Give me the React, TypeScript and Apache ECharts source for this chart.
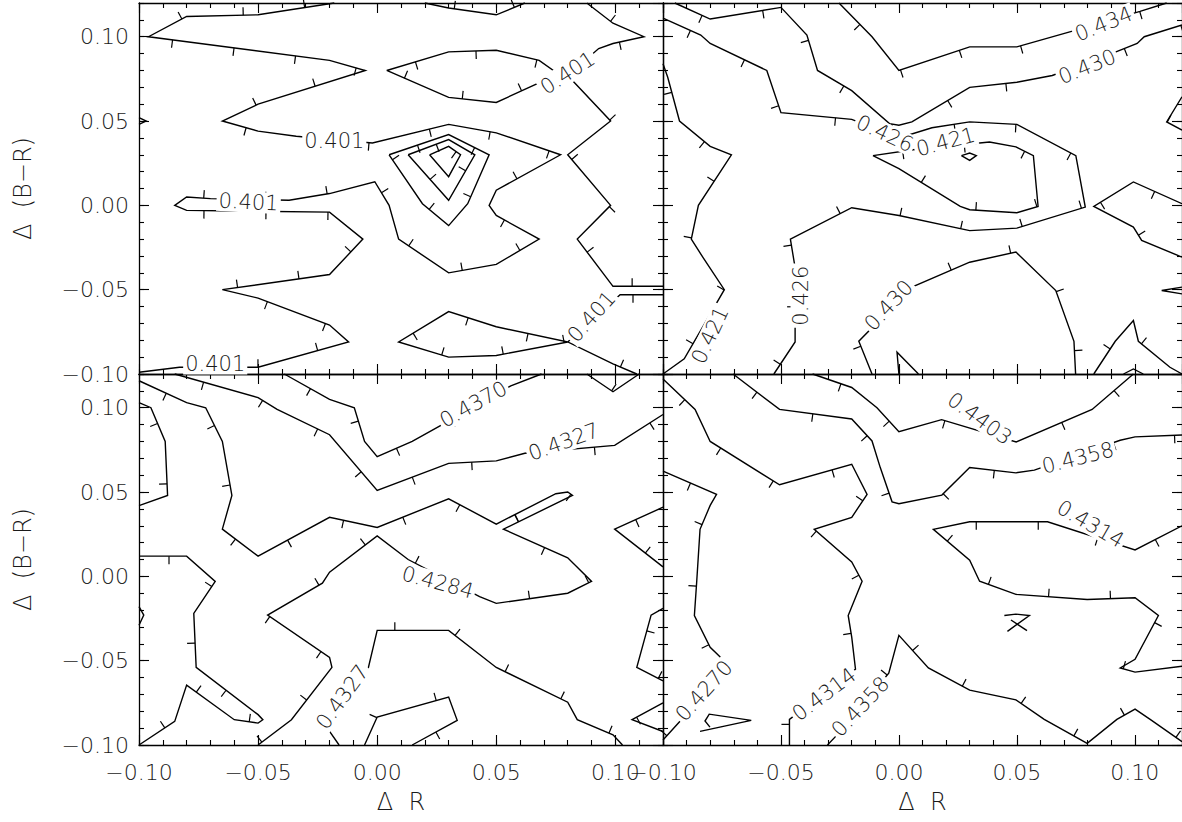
import { useEffect, useRef } from 'react';
import * as echarts from 'echarts';

type Pt = [number, number];
type Contour = { pts: Pt[]; side: number };
type Label = [number, number, number, string]; // x, y, angle (deg), text

const X_MIN = -0.1;
const X_MAX = 0.12;
const Y_MIN = -0.1;
const Y_MAX = 0.12;
const MAJOR = 0.05;
const MINOR = 0.01;

// ---------- Panel 1 (top left) ----------
const p1Outer: Pt[] = [[-0.018,0.120],[-0.050,0.113],[-0.080,0.112],[-0.096,0.100],[-0.020,0.086],[-0.005,0.080],[-0.050,0.060],[-0.065,0.050],[-0.050,0.044],[-0.034,0.041],[-0.002,0.037],[0.030,0.048],[0.050,0.043],[0.077,0.030],[0.050,0.009],[0.047,0.000],[0.050,-0.006],[0.068,-0.020],[0.050,-0.035],[0.030,-0.040],[0.009,-0.020],[0.005,0.000],[-0.001,0.014],[-0.020,0.007],[-0.037,0.003],[-0.070,0.004],[-0.080,0.005],[-0.085,0.000],[-0.080,-0.003],[-0.020,-0.004],[-0.006,-0.020],[-0.020,-0.041],[-0.065,-0.050],[-0.050,-0.055],[-0.020,-0.071],[-0.012,-0.081],[-0.050,-0.096],[-0.083,-0.096],[-0.100,-0.099]];
const p1Right: Pt[] = [[0.088,0.120],[0.099,0.108],[0.112,0.100],[0.099,0.096],[0.093,0.093],[0.080,0.077],[0.098,0.050],[0.080,0.030],[0.098,0.000],[0.084,-0.020],[0.099,-0.048],[0.120,-0.048]];
const p1Lens: Pt[] = [[0.004,0.080],[0.030,0.091],[0.050,0.092],[0.068,0.086],[0.075,0.079],[0.070,0.074],[0.050,0.061],[0.030,0.064],[0.004,0.080]];
const p1TopV: Pt[] = [[0.020,0.120],[0.030,0.117],[0.050,0.113],[0.062,0.120]];
const p1Bottom: Pt[] = [[0.120,-0.053],[0.102,-0.053],[0.080,-0.081],[0.050,-0.072],[0.030,-0.063],[0.009,-0.081],[0.030,-0.090],[0.050,-0.089],[0.080,-0.081],[0.099,-0.094],[0.109,-0.100]];
const p1Ring1: Pt[] = [[0.005,0.030],[0.030,0.042],[0.047,0.030],[0.038,0.001],[0.030,-0.012],[0.019,0.001],[0.005,0.030]];
const p1Ring2: Pt[] = [[0.013,0.030],[0.030,0.039],[0.041,0.030],[0.030,0.003],[0.013,0.030]];
const p1Ring3: Pt[] = [[0.022,0.030],[0.030,0.035],[0.035,0.030],[0.030,0.017],[0.022,0.030]];
const p1Edge: Pt[] = [[-0.100,0.052],[-0.097,0.050],[-0.100,0.048]];
const p1Labels: Label[] = [
  [-0.018, 0.038, 0, '0.401'],
  [-0.054, 0.002, -3, '0.401'],
  [-0.068, -0.094, 0, '0.401'],
  [0.080, 0.0785, 33, '0.401'],
  [0.090, -0.066, 48, '0.401'],
];

// ---------- Panel 2 (top right) ----------
const p2Left421: Pt[] = [[-0.100,0.084],[-0.098,0.076],[-0.093,0.050],[-0.080,0.035],[-0.071,0.030],[-0.085,0.000],[-0.088,-0.020],[-0.083,-0.031],[-0.074,-0.050],[-0.091,-0.091],[-0.100,-0.100]];
const p2Main426: Pt[] = [[-0.100,0.111],[-0.084,0.101],[-0.080,0.096],[-0.056,0.080],[-0.050,0.055],[-0.020,0.051],[0.000,0.040],[0.014,0.046],[0.030,0.0495],[0.050,0.048],[0.075,0.0295],[0.079,-0.001],[0.050,-0.0135],[0.030,-0.015],[0.000,-0.006],[-0.020,-0.0014],[-0.046,-0.020],[-0.044,-0.037],[-0.044,-0.081],[-0.053,-0.100]];
const p2Loop421: Pt[] = [[-0.011,0.0295],[0.006,0.033],[0.0384,0.0376],[0.0496,0.0347],[0.057,0.0295],[0.059,-0.0006],[0.050,-0.0044],[0.030,-0.0026],[0.026,-0.0006],[0.000,0.0218],[-0.011,0.0295]];
const p2Upper430: Pt[] = [[-0.095,0.120],[-0.080,0.1105],[-0.050,0.1174],[-0.039,0.101],[-0.0345,0.080],[-0.020,0.068],[-0.004,0.0485],[0.000,0.0475],[0.0055,0.0495],[0.030,0.070],[0.050,0.073],[0.065,0.077],[0.092,0.091],[0.101,0.096],[0.104,0.100],[0.120,0.107]];
const p2Top434: Pt[] = [[-0.0254,0.120],[-0.0114,0.100],[0.000,0.080],[0.030,0.094],[0.050,0.094],[0.0728,0.103],[0.1022,0.115],[0.1135,0.120]];
const p2Lower430: Pt[] = [[-0.0114,-0.100],[-0.017,-0.0806],[0.0055,-0.0485],[0.030,-0.0337],[0.0496,-0.0277],[0.0665,-0.0505],[0.0742,-0.0806],[0.0749,-0.100]];
const p2Diamond: Pt[] = [[0.0265,0.0295],[0.030,0.031],[0.0328,0.0295],[0.030,0.0267],[0.0265,0.0295]];
const p2EdgeA: Pt[] = [[0.120,0.0644],[0.1135,0.0495],[0.120,0.0446]];
const p2EdgeB: Pt[] = [[0.120,0.001],[0.0994,0.0139],[0.0826,-0.0006],[0.0994,-0.0129],[0.1029,-0.0208],[0.120,-0.0307]];
const p2EdgeC: Pt[] = [[0.120,-0.0485],[0.1114,-0.0505],[0.120,-0.0525]];
const p2Spike: Pt[] = [[0.0083,-0.100],[-0.0008,-0.0871],[0.000,-0.100]];
const p2Peak: Pt[] = [[0.0826,-0.100],[0.0917,-0.0806],[0.0994,-0.0683],[0.1015,-0.0806],[0.1149,-0.096],[0.120,-0.100]];
const p2Small: Pt[] = [[0.0952,-0.100],[0.0994,-0.097],[0.1036,-0.100]];
const p2Labels: Label[] = [
  [-0.080, -0.077, 65, '0.421'],
  [-0.006, 0.0426, -25, '0.426'],
  [0.0198, 0.0376, 15, '0.421'],
  [-0.0415, -0.0535, 90, '0.426'],
  [0.0798, 0.0822, 22, '0.430'],
  [0.0868, 0.1075, 22, '0.434'],
  [-0.0043, -0.0594, 47, '0.430'],
];

// ---------- Panel 3 (bottom left) ----------
const p3Mid4284: Pt[] = [[-0.100,0.116],[-0.080,0.103],[-0.072,0.100],[-0.065,0.080],[-0.061,0.048],[-0.065,0.028],[-0.050,0.012],[-0.020,0.035],[0.000,0.029],[0.030,0.046],[0.050,0.031],[0.075,0.049],[0.080,0.050],[0.082,0.048],[0.053,0.028],[0.080,0.011],[0.090,-0.003],[0.080,-0.010],[0.050,-0.016],[0.043,-0.012],[0.013,0.010],[0.000,0.024],[-0.020,0.0025],[-0.023,-0.004],[-0.046,-0.023],[-0.020,-0.048],[-0.019,-0.054],[-0.036,-0.085],[-0.050,-0.100]];
const p3Upper4327: Pt[] = [[-0.085,0.120],[-0.050,0.106],[-0.042,0.099],[-0.020,0.084],[0.000,0.051],[0.030,0.067],[0.050,0.0685],[0.062,0.073],[0.0997,0.0777],[0.120,0.096]];
const p3Top4370: Pt[] = [[-0.039,0.120],[-0.020,0.105],[-0.0096,0.100],[-0.0053,0.080],[0.000,0.071],[0.0147,0.080],[0.026,0.089],[0.0561,0.113],[0.069,0.120]];
const p3LeftLoop: Pt[] = [[-0.100,0.103],[-0.095,0.100],[-0.089,0.080],[-0.088,0.048],[-0.100,0.042]];
const p3LeftLower: Pt[] = [[-0.100,0.012],[-0.080,0.012],[-0.068,-0.003],[-0.077,-0.022],[-0.076,-0.054],[-0.050,-0.082],[-0.048,-0.085],[-0.050,-0.087],[-0.060,-0.085],[-0.080,-0.0645],[-0.085,-0.086],[-0.100,-0.100]];
const p3EdgeL: Pt[] = [[-0.100,-0.018],[-0.098,-0.023],[-0.100,-0.029]];
const p3Lower4327: Pt[] = [[-0.016,-0.100],[-0.0224,-0.087],[-0.0039,-0.0553],[0.000,-0.032],[0.030,-0.032],[0.050,-0.054],[0.080,-0.0746],[0.084,-0.085],[0.099,-0.094],[0.103,-0.100]];
const p3Bottom: Pt[] = [[-0.0053,-0.100],[0.000,-0.0834],[0.030,-0.0716],[0.0336,-0.0854],[0.0147,-0.100]];
const p3EdgeR1: Pt[] = [[0.120,0.041],[0.0997,0.028],[0.120,0.0056]];
const p3EdgeR2: Pt[] = [[0.120,-0.019],[0.115,-0.023],[0.109,-0.054],[0.120,-0.062]];
const p3EdgeR3: Pt[] = [[0.120,-0.075],[0.107,-0.085],[0.120,-0.092]];
const p3TopV: Pt[] = [[0.088,0.120],[0.099,0.1095],[0.110,0.120]];
const p3Labels: Label[] = [
  [0.0404, 0.102, 29, '0.4370'],
  [0.0783, 0.0797, 20, '0.4327'],
  [0.0254, -0.0036, -15, '0.4284'],
  [-0.0146, -0.0716, 54, '0.4327'],
];

// ---------- Panel 4 (bottom right) ----------
const p4Left4314: Pt[] = [[-0.100,0.117],[-0.0864,0.099],[-0.080,0.080],[-0.0506,0.0543],[-0.020,0.0665],[-0.0135,0.0486],[-0.020,0.035],[-0.0359,0.0279],[-0.020,0.0086],[-0.0156,-0.0029],[-0.0215,-0.0232],[-0.020,-0.036],[-0.0184,-0.055],[-0.0464,-0.0848],[-0.0464,-0.100]];
const p4Left4270: Pt[] = [[-0.100,0.0624],[-0.0773,0.0486],[-0.080,0.0421],[-0.0843,0.0279],[-0.0857,-0.0029],[-0.0867,-0.0232],[-0.080,-0.0421],[-0.0717,-0.0533],[-0.0927,-0.0858],[-0.100,-0.097]];
const p4Tri: Pt[] = [[-0.0843,-0.0919],[-0.0626,-0.0854],[-0.0804,-0.0817],[-0.0822,-0.0858],[-0.0801,-0.0894]];
const p4Upper4358: Pt[] = [[-0.0703,0.120],[-0.0506,0.099],[-0.020,0.0933],[-0.0114,0.0803],[-0.0079,0.0645],[-0.0029,0.0442],[0.000,0.0431],[0.0182,0.0482],[0.030,0.0645],[0.0496,0.0614],[0.0574,0.063],[0.0938,0.0807],[0.1001,0.0827],[0.120,0.0838]];
const p4Top4403: Pt[] = [[-0.0366,0.120],[-0.020,0.112],[-0.0093,0.100],[0.000,0.0858],[0.0181,0.0929],[0.0497,0.0797],[0.0819,0.099],[0.0994,0.120]];
const p4Mid4314: Pt[] = [[0.120,0.030],[0.1001,0.0157],[0.063,0.0324],[0.030,0.0324],[0.0146,0.0279],[0.030,0.0096],[0.0342,-0.0029],[0.0496,-0.0107],[0.0798,-0.0137],[0.1001,-0.0127],[0.110,-0.0232],[0.1001,-0.0492],[0.0938,-0.0543],[0.1001,-0.0568],[0.120,-0.0533]];
const p4Lower4358: Pt[] = [[-0.0303,-0.100],[-0.0268,-0.0949],[-0.0043,-0.0574],[0.000,-0.035],[0.0125,-0.0543],[0.030,-0.0675],[0.0496,-0.0732],[0.0616,-0.0848],[0.0798,-0.099],[0.0924,-0.0848],[0.1001,-0.0787],[0.1065,-0.0848],[0.120,-0.098]];
const p4Bow: Pt[] = [[0.0447,-0.0232],[0.0496,-0.0224],[0.0553,-0.0232],[0.046,-0.0326]];
const p4Bow2: Pt[] = [[0.0475,-0.0259],[0.0543,-0.0322]];
const p4Labels: Label[] = [
  [0.0342, 0.0935, -36, '0.4403'],
  [0.0759, 0.0702, 14, '0.4358'],
  [0.0812, 0.031, -30, '0.4314'],
  [-0.0826, -0.0679, 48, '0.4270'],
  [-0.0317, -0.070, 37, '0.4314'],
  [-0.0163, -0.0773, 47, '0.4358'],
];

const panelContours: Contour[][] = [
  [
    { pts: p1Outer, side: 1 }, { pts: p1Right, side: -1 }, { pts: p1Lens, side: 1 },
    { pts: p1TopV, side: -1 }, { pts: p1Bottom, side: -1 }, { pts: p1Ring1, side: 1 },
    { pts: p1Ring2, side: 1 }, { pts: p1Ring3, side: 1 }, { pts: p1Edge, side: 0 },
  ],
  [
    { pts: p2Left421, side: 1 }, { pts: p2Main426, side: 1 }, { pts: p2Loop421, side: 1 },
    { pts: p2Upper430, side: 1 }, { pts: p2Top434, side: 1 }, { pts: p2Lower430, side: -1 },
    { pts: p2Diamond, side: 0 }, { pts: p2EdgeA, side: -1 }, { pts: p2EdgeB, side: -1 },
    { pts: p2EdgeC, side: 0 }, { pts: p2Spike, side: 0 }, { pts: p2Peak, side: -1 },
    { pts: p2Small, side: 0 },
  ],
  [
    { pts: p3Mid4284, side: 1 }, { pts: p3Upper4327, side: 1 }, { pts: p3Top4370, side: 1 },
    { pts: p3LeftLoop, side: 1 }, { pts: p3LeftLower, side: 1 }, { pts: p3EdgeL, side: 0 },
    { pts: p3Lower4327, side: -1 }, { pts: p3Bottom, side: -1 }, { pts: p3EdgeR1, side: -1 },
    { pts: p3EdgeR2, side: -1 }, { pts: p3EdgeR3, side: -1 }, { pts: p3TopV, side: -1 },
  ],
  [
    { pts: p4Left4314, side: 1 }, { pts: p4Left4270, side: 1 }, { pts: p4Tri, side: 0 },
    { pts: p4Upper4358, side: 1 }, { pts: p4Top4403, side: 1 }, { pts: p4Mid4314, side: -1 },
    { pts: p4Lower4358, side: -1 }, { pts: p4Bow, side: 0 }, { pts: p4Bow2, side: 0 },
  ],
];
const panelLabels: Label[][] = [p1Labels, p2Labels, p3Labels, p4Labels];

const FONT = "'DejaVu Sans', sans-serif";
const WEIGHT = 200;
const TICK_LEN = 8;
const TICK_SPACING = 62;
const TICK_START = 30;

function fmt(v: number): string {
  const r = Math.round(v * 100) / 100;
  const s = Math.abs(r).toFixed(2);
  return r < -1e-9 ? '\u2212' + s : s;
}

function contourItem(c: Contour, api: any) {
  const pts = c.pts.map((p) => api.coord(p));
  const children: any[] = [
    { type: 'polyline', shape: { points: pts }, style: { stroke: '#000', lineWidth: 1.4, fill: 'none' } },
  ];
  if (c.side !== 0) {
    let acc = 0;
    let next = TICK_START;
    for (let i = 1; i < pts.length; i++) {
      const ax = pts[i - 1][0], ay = pts[i - 1][1];
      const dx = pts[i][0] - ax, dy = pts[i][1] - ay;
      const L = Math.hypot(dx, dy);
      if (L < 1e-6) continue;
      while (next <= acc + L) {
        const t = (next - acc) / L;
        const px = ax + dx * t, py = ay + dy * t;
        const nx = (-dy / L) * c.side, ny = (dx / L) * c.side;
        children.push({
          type: 'line',
          shape: { x1: px, y1: py, x2: px + nx * TICK_LEN, y2: py + ny * TICK_LEN },
          style: { stroke: '#000', lineWidth: 1.2 },
        });
        next += TICK_SPACING;
      }
      acc += L;
    }
  }
  return { type: 'group', children };
}

const GRIDS = [
  { left: 139, top: 3, width: 524, height: 371 },
  { left: 663, top: 3, width: 524, height: 371 },
  { left: 139, top: 374, width: 524, height: 371 },
  { left: 663, top: 374, width: 524, height: 371 },
];

const lineStyle = { color: '#000', width: 1.3 };

function buildOption() {
  const xAxis: any[] = [];
  const yAxis: any[] = [];
  const series: any[] = [];
  GRIDS.forEach((_, g) => {
    const isBottom = g >= 2;
    const isLeft = g % 2 === 0;
    const base = { gridIndex: g, type: 'value', min: X_MIN, max: X_MAX, splitLine: { show: false } };
    const labelStyle = {
      fontSize: 22, fontFamily: FONT, fontWeight: WEIGHT, color: '#1a1a1a', formatter: fmt,
      showMaxLabel: false,
    };
    const nameStyle = { fontSize: 24, fontFamily: FONT, fontWeight: WEIGHT, color: '#1a1a1a' };
    ['bottom', 'top'].forEach((pos) => {
      xAxis.push({
        ...base, position: pos, interval: MAJOR,
        axisLine: { show: true, onZero: false, lineStyle },
        axisTick: { show: true, inside: true, length: 10, lineStyle: { color: '#000', width: 1.1 } },
        axisLabel: pos === 'bottom' && isBottom ? { ...labelStyle, margin: 16 } : { show: false },
        name: pos === 'bottom' && isBottom ? 'Δ  R' : '',
        nameLocation: 'middle', nameGap: 45,
        nameTextStyle: nameStyle,
      });
      xAxis.push({
        ...base, position: pos, interval: MINOR,
        axisLine: { show: false, onZero: false },
        axisTick: { show: true, inside: true, length: 5, lineStyle: { color: '#000', width: 1.1 } },
        axisLabel: { show: false },
      });
    });
    const ybase = { gridIndex: g, type: 'value', min: Y_MIN, max: Y_MAX, splitLine: { show: false } };
    ['left', 'right'].forEach((pos) => {
      yAxis.push({
        ...ybase, position: pos, interval: MAJOR,
        axisLine: { show: true, onZero: false, lineStyle },
        axisTick: { show: true, inside: true, length: 10, lineStyle: { color: '#000', width: 1.1 } },
        axisLabel: pos === 'left' && isLeft ? { ...labelStyle, margin: 10 } : { show: false },
        name: pos === 'left' && isLeft ? 'Δ  (B\u2212R)' : '',
        nameLocation: 'middle', nameGap: 104,
        nameTextStyle: nameStyle,
      });
      yAxis.push({
        ...ybase, position: pos, interval: MINOR,
        axisLine: { show: false, onZero: false },
        axisTick: { show: true, inside: true, length: 5, lineStyle: { color: '#000', width: 1.1 } },
        axisLabel: { show: false },
      });
    });

    const contours = panelContours[g];
    series.push({
      type: 'custom', coordinateSystem: 'cartesian2d',
      xAxisIndex: g * 4, yAxisIndex: g * 4, silent: true, z: 3,
      data: contours.map((c) => c.pts[0]),
      renderItem: (params: any, api: any) => contourItem(contours[params.dataIndex], api),
    });
    const labels = panelLabels[g];
    series.push({
      type: 'custom', coordinateSystem: 'cartesian2d',
      xAxisIndex: g * 4, yAxisIndex: g * 4, silent: true, z: 5,
      data: labels.map((l) => [l[0], l[1]]),
      renderItem: (params: any, api: any) => {
        const l = labels[params.dataIndex];
        const p = api.coord([l[0], l[1]]);
        return {
          type: 'text', x: p[0], y: p[1], rotation: (l[2] * Math.PI) / 180,
          style: {
            text: l[3], fontSize: 21, fontFamily: FONT, fontWeight: WEIGHT, fill: '#1a1a1a',
            align: 'center', verticalAlign: 'middle', textAlign: 'center', textVerticalAlign: 'middle',
            backgroundColor: '#fff', padding: [0, 2],
          },
        };
      },
    });
  });
  return {
    animation: false,
    backgroundColor: '#fff',
    grid: GRIDS.map((g) => ({ ...g, containLabel: false })),
    xAxis, yAxis, series,
  };
}

export default function App() {
  const ref = useRef<HTMLDivElement>(null);
  useEffect(() => {
    if (!ref.current) return;
    const chart = echarts.init(ref.current, null, { renderer: 'svg' });
    chart.setOption(buildOption() as any);
    return () => chart.dispose();
  }, []);
  return (
    <div
      ref={ref}
      style={{ position: 'absolute', left: 0, top: 0, width: 1182, height: 822, background: '#fff' }}
    />
  );
}
